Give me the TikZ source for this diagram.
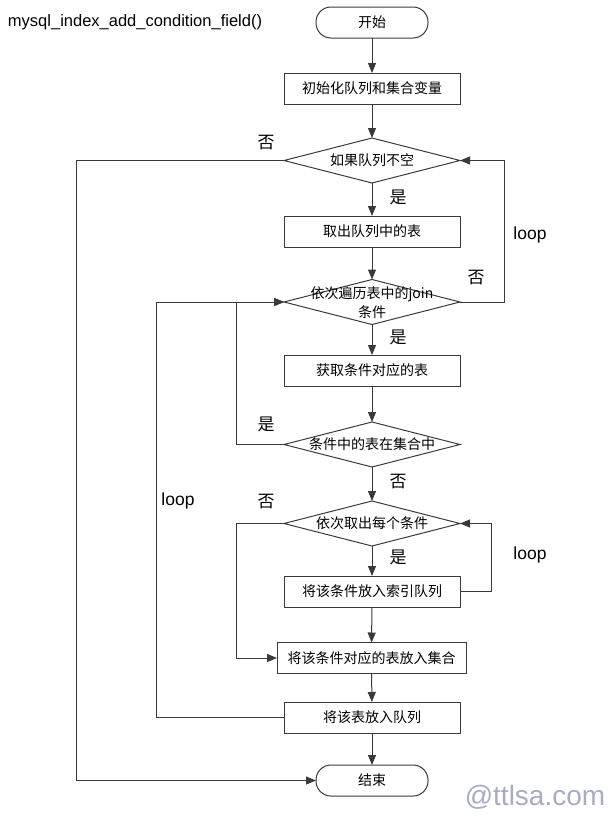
\documentclass[tikz,border=0pt]{standalone}
\usepackage{fontspec}
\setmainfont{Liberation Sans}
\newfontfamily\cjk{Noto Sans CJK SC}
\usetikzlibrary{arrows.meta,shapes.geometric}
\definecolor{ln}{HTML}{3A3A3A}
\definecolor{wm}{RGB}{168,172,192}
\begin{document}
\begin{tikzpicture}[x=1pt,y=-1pt,
  every node/.style={inner sep=0pt,outer sep=0pt},
  box/.style={draw=ln,line width=1pt,rectangle,minimum width=176pt,minimum height=31pt,font=\cjk\fontsize{14}{17}\selectfont},
  term/.style={draw=ln,line width=1pt,rectangle,rounded corners=15pt,minimum width=112pt,minimum height=31pt,font=\cjk\fontsize{14}{17}\selectfont},
  dia/.style={draw=ln,line width=1pt,diamond,minimum width=176pt,minimum height=45pt},
  dtxt/.style={font=\cjk\fontsize{14}{19}\selectfont,align=center},
  yn/.style={font=\cjk\fontsize{17}{20}\selectfont},
  lp/.style={font=\fontsize{17.5}{20}\selectfont},
  conn/.style={draw=ln,line width=1pt,-{Triangle[length=10pt,width=8pt]}},
  plain/.style={draw=ln,line width=1pt}]
\useasboundingbox (0,0) rectangle (614,817);

\node[anchor=west,font=\fontsize{16.5}{19}\selectfont] (title) at (8,22) {mysql\_index\_add\_condition\_field()};

\node[term] (start) at (372,22.5) {开始};
\node[box] (init) at (372,88.5) {初始化队列和集合变量};
\node[dia] (d1) at (372,160.5) {};
\node[dtxt] (d1t) at (d1) {如果队列不空};
\node[box] (take) at (372,231.5) {取出队列中的表};
\node[dia] (d2) at (372,302) {};
\node[dtxt] (d2t) at (372,303) {依次遍历表中的join\\条件};
\node[box] (get) at (372,370.5) {获取条件对应的表};
\node[dia] (d3) at (372,444.5) {};
\node[dtxt] (d3t) at (d3) {条件中的表在集合中};
\node[dia] (d4) at (372,523.5) {};
\node[dtxt] (d4t) at (d4) {依次取出每个条件};
\node[box] (putidx) at (372,591.5) {将该条件放入索引队列};
\node[box,minimum width=189pt] (putset) at (371.5,658) {将该条件对应的表放入集合};
\node[box] (putq) at (372,717.5) {将该表放入队列};
\node[term] (end) at (372,780.5) {结束};

\draw[conn] (start) -- (init);
\draw[conn] (init) -- (d1);
\draw[conn] (d1) -- (take);
\draw[conn] (take) -- (d2);
\draw[conn] (d2) -- (get);
\draw[conn] (get) -- (d3);
\draw[conn] (d3) -- (d4);
\draw[conn] (d4) -- (putidx);
\draw[conn] (putidx) -- (putset);
\draw[conn] (putset) -- (putq);
\draw[conn] (putq) -- (end);

\coordinate (c1) at (76,160.5);
\coordinate (c2) at (504,302);
\coordinate (c3) at (236,444.5);
\coordinate (c4) at (156,717.5);
\coordinate (c5) at (236,523.5);
\coordinate (c6) at (491,591.5);

\draw[conn] (d1.west) -- (c1) |- (end.west);
\draw[conn] (d2.east) -- (c2) |- (d1.east);
\draw[conn] (d3.west) -- (c3) |- (d2.west);
\draw[conn] (putq.west) -- (c4) |- (d2.west);
\draw[conn] (d4.west) -- (c5) |- (putset.west);
\draw[conn] (putidx.east) -- (c6) |- (d4.east);

\node[yn] (n1) at (266,143) {否};
\node[yn] (y1) at (398,197) {是};
\node[yn] (n2) at (476,278) {否};
\node[yn] (y2) at (398,337) {是};
\node[yn] (y3) at (266,424) {是};
\node[yn] (n3) at (398,482) {否};
\node[yn] (n4) at (266,502) {否};
\node[yn] (y4) at (398,557) {是};
\node[lp] (l1) at (530,235) {loop};
\node[lp] (l2) at (178,501) {loop};
\node[lp] (l3) at (530,555) {loop};

\node[font=\fontsize{28}{32}\selectfont,text=wm] (wm) at (535,797) {@ttlsa.com};
\end{tikzpicture}
\end{document}
